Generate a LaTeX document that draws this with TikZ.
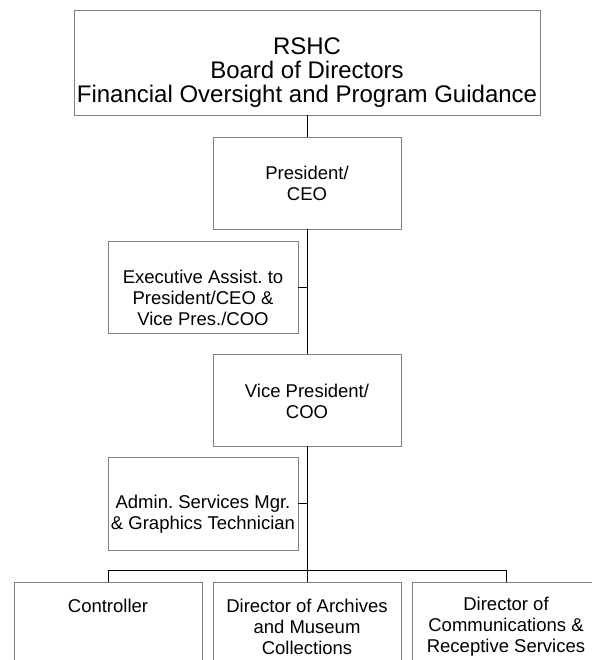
\documentclass[tikz,border=0pt]{standalone}
\usepackage{fontspec}
\setmainfont{Liberation Sans}
\frenchspacing
\begin{document}
\begin{tikzpicture}[x=1pt,y=-1pt,
  box/.style={draw=black!50, line width=0.8pt, minimum width=188pt, minimum height=92pt, inner sep=0pt, anchor=center},
  lbl/.style={align=center, inner sep=0pt, font=\fontsize{18.5}{21}\selectfont},
  link/.style={draw=black, line width=0.8pt}]
\useasboundingbox (0,0) rectangle (591,660);
\fill[white] (0,0) rectangle (591,660);
% boxes
\node[box, minimum width=466pt, minimum height=105pt] (board) at (307,62.5) {};
\node[box] (pres) at (307,183) {};
\node[box, minimum width=190pt] (exec) at (203,287) {};
\node[box] (vp) at (307,400) {};
\node[box, minimum width=190pt, minimum height=93pt] (admin) at (203,503.5) {};
\node[box] (ctrl) at (108,628) {};
\node[box] (arch) at (307,628) {};
\node[box] (comm) at (506,628) {};
% texts
\node[lbl, font=\fontsize{24}{24}\selectfont] (boardT) at (307,73) {RSHC\\Board of Directors\\Financial Oversight and Program Guidance};
\node[lbl] (presT) at (307,183) {President/\\CEO};
\node[lbl] (execT) at (203,298) {Executive Assist. to\\President/CEO \&\\Vice Pres./COO};
\node[lbl] (vpT) at (307,401.5) {Vice President/\\COO};
\node[lbl] (adminT) at (203,514) {Admin. Services Mgr.\\\& Graphics Technician};
\node[lbl] (ctrlT) at (108,606) {Controller};
\node[lbl] (archT) at (307,626.5) {Director of Archives\\and Museum\\Collections};
\node[lbl] (commT) at (506,626.5) {Director of\\Communications \&\\Receptive Services};
% connectors
\draw[link] (board.south) -- (pres.north);
\draw[link] (pres.south) -- (vp.north);
\draw[link] (exec.east) -- (exec.east -| pres.south);
\draw[link] (vp.south) -- (arch.north);
\draw[link] (admin.east) -- (admin.east -| vp.south);
\draw[link] (ctrl.north) -- ++(0,-11) -| (comm.north);
\end{tikzpicture}
\end{document}
